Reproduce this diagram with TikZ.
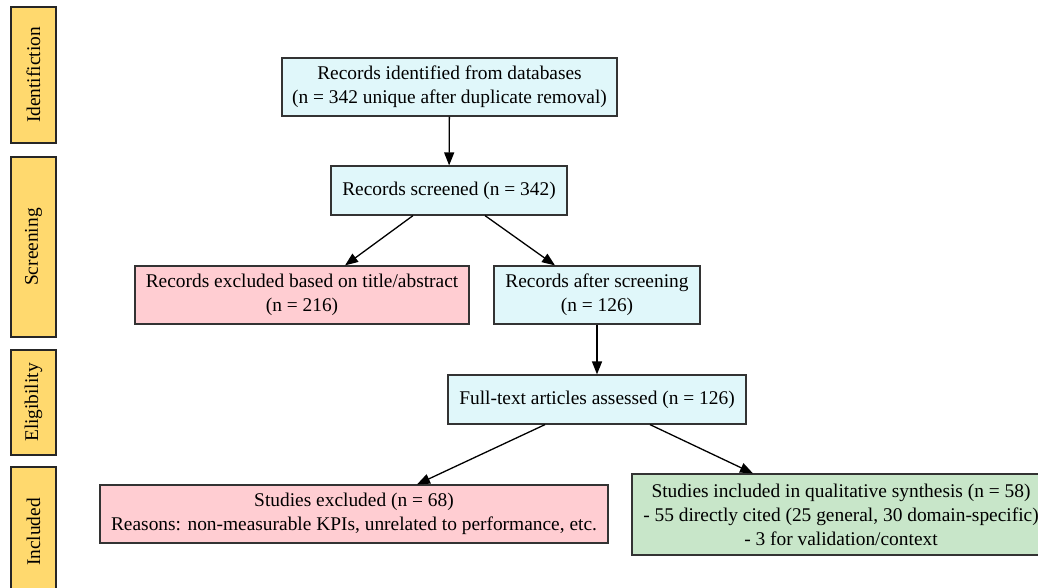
\documentclass[tikz,border=0pt]{standalone}
\usepackage{fontspec}
\setmainfont{Liberation Serif}
\usepackage{tikz}
\usetikzlibrary{arrows.meta}

\definecolor{phaseyellow}{RGB}{255,217,110}
\definecolor{keepcyan}{RGB}{224,247,250}
\definecolor{droppink}{RGB}{255,205,210}
\definecolor{finalgreen}{RGB}{200,230,201}

\begin{document}
\begin{tikzpicture}[x=1pt, y=-1pt,
    every node/.style={font=\fontsize{19.4}{24}\selectfont},
    box/.style={draw=black!80, line width=1.2pt, align=center, inner sep=0pt},
    phase/.style={draw=black!85, line width=1.8pt, fill=phaseyellow, rotate=90, inner sep=0pt, minimum height=45pt},
    flow/.style={-{Triangle[length=13pt, width=10pt]}, line width=1.3pt}]

    \useasboundingbox (0, 0) rectangle (1038, 587);

    \node [phase, minimum width=136pt] (p1) at (33.5, 75) {Identifiction};
    \node [phase, minimum width=180pt] (p2) at (33.5, 247) {Screening};
    \node [phase, minimum width=105pt] (p3) at (33.5, 402.5) {Eligibility};
    \node [phase, minimum width=130pt] (p4) at (33.5, 532) {Included};

    \node [box, fill=keepcyan, minimum width=335pt, minimum height=58pt] (ident) at (449.5, 87)
        {Records identified from databases\\(n = 342 unique after duplicate removal)};
    \node [box, fill=keepcyan, minimum width=236pt, minimum height=49pt] (screened) at (449, 190.5)
        {Records screened (n = 342)};
    \node [box, fill=droppink, minimum width=334pt, minimum height=58pt] (excl1) at (302, 295)
        {Records excluded based on title/abstract\\(n = 216)};
    \node [box, fill=keepcyan, minimum width=206pt, minimum height=58pt] (after) at (597, 295)
        {Records after screening\\(n = 126)};
    \node [box, fill=keepcyan, minimum width=298pt, minimum height=49pt] (fulltext) at (597, 399.5)
        {Full-text articles assessed (n = 126)};
    \node [box, fill=droppink, minimum width=508pt, minimum height=58pt] (excl2) at (354, 514)
        {Studies excluded (n = 68)\\Reasons: non-measurable KPIs, unrelated to performance, etc.};
    \node [box, fill=finalgreen, minimum width=418pt, minimum height=81pt] (incl) at (841, 514.5)
        {Studies included in qualitative synthesis (n = 58)\\- 55 directly cited (25 general, 30 domain-specific)\\- 3 for validation/context};

    \draw [flow] (ident) to (screened);
    \draw [flow] ([xshift=-36pt]screened.south) to ([xshift=43pt]excl1.north);
    \draw [flow] ([xshift=36pt]screened.south) to ([xshift=-42pt]after.north);
    \draw [flow] (after) to (fulltext);
    \draw [flow] ([xshift=-52pt]fulltext.south) to ([xshift=63pt]excl2.north);
    \draw [flow] ([xshift=53pt]fulltext.south) to ([xshift=-88pt]incl.north);

\end{tikzpicture}
\end{document}
